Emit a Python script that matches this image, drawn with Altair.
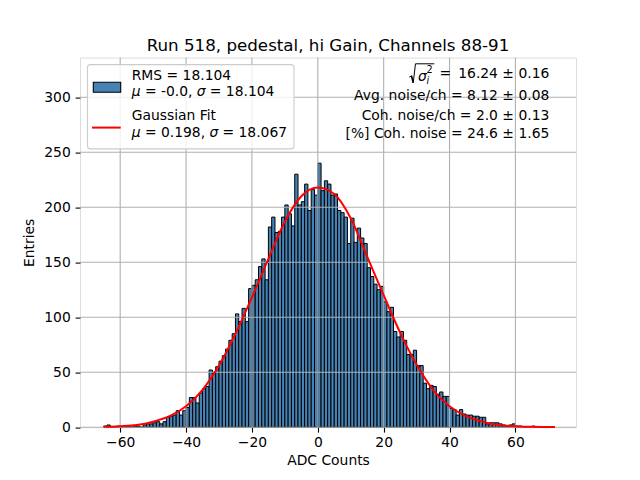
import altair as alt
import pandas as pd

TITLE = "Run 518, pedestal, hi Gain, Channels 88-91"
X_LABEL = "ADC Counts"
Y_LABEL = "Entries"

# histogram: left edge of each 1-count-wide bin and its entries
bin_start = list(range(-65, 72))
counts = [
    1, 2, 0, 0, 1, 0, 0, 1, 0, 1,            # -65 .. -56
    1, 0, 2, 3, 3, 4, 5, 3, 5, 9,            # -55 .. -46
    10, 11, 15, 11, 15, 18, 27, 27, 22, 31,  # -45 .. -36
    35, 37, 52, 50, 55, 60, 65, 71, 79, 85,  # -35 .. -26
    103, 96, 108, 96, 126, 129, 134, 146, 153, 134,  # -25 .. -16
    182, 191, 177, 178, 191, 202, 194, 183, 230, 202,  # -15 .. -6
    205, 221, 197, 216, 211, 240, 215, 224, 221, 211,  # -5 .. 4
    212, 197, 195, 191, 167, 190, 168, 181, 172, 167,  # 5 .. 14
    145, 137, 130, 125, 128, 114, 105, 109, 87, 82,    # 15 .. 24
    87, 79, 66, 66, 70, 56, 56, 40, 35, 38,            # 25 .. 34
    37, 30, 32, 28, 28, 17, 16, 11, 16, 12,            # 35 .. 44
    11, 11, 10, 10, 9, 9, 3, 4, 4, 4,                  # 45 .. 54
    3, 2, 1, 2, 3, 1, 1, 0, 0, 0,                      # 55 .. 64
    1, 0, 0, 0, 0, 0, 0,                               # 65 .. 71
]
assert len(counts) == len(bin_start)

# Gaussian fit curve
fit_x = [-65, -60, -55, -50, -45, -40, -35, -30, -25, -20, -15, -10, -5, 0,
         5, 10, 15, 20, 25, 30, 35, 40, 45, 50, 55, 60, 65, 72]
fit_y = [0.3, 0.9, 2, 5, 10, 19, 34, 56, 85, 118, 153, 187, 210, 218,
         212, 190, 155, 120, 86, 57, 34, 19, 10, 5, 2, 0.9, 0.3, 0.1]

x_ticks = [-60, -40, -20, 0, 20, 40, 60]
y_ticks = [0, 50, 100, 150, 200, 250, 300]

# legend text pieces (math symbols drawn in italic)
leg_rms = "RMS = 18.104"
leg_fit = "Gaussian Fit"
mu_sym = "\u03bc"
sigma_sym = "\u03c3"
hist_mu_txt = "= -0.0,"
hist_sig_txt = "= 18.104"
fit_mu_txt = "= 0.198,"
fit_sig_txt = "= 18.067"

stats_lines = ["16.24 \u00b1 0.16", "Avg. noise/ch = 8.12 \u00b1 0.08",
               "Coh. noise/ch = 2.0 \u00b1 0.13", "[%] Coh. noise = 24.6 \u00b1 1.65"]

FONT = "DejaVu Sans"
FS = 13.9
BAR_COLOR = "#4682b4"
GRID = "#b0b0b0"

hist_df = pd.DataFrame({"start": bin_start,
                        "end": [b + 1 for b in bin_start],
                        "count": counts})
fit_df = pd.DataFrame({"x": fit_x, "y": fit_y})

xs = alt.Scale(domain=[-72.2, 78.4], nice=False, zero=False)
ys = alt.Scale(domain=[0, 336], nice=False, zero=False)

x_axis = alt.Axis(values=x_ticks, title=X_LABEL, grid=False, domain=False,
                  tickSize=4.9, tickWidth=1.1, tickColor="black",
                  labelFont=FONT, labelFontSize=FS, labelColor="black",
                  labelPadding=3, titleFont=FONT, titleFontSize=FS,
                  titleFontWeight="normal", titleColor="black", titlePadding=5,
                  labelExpr="replace(datum.label, '-', '\u2212')")
y_axis = alt.Axis(values=y_ticks, title=Y_LABEL, grid=False, domain=False,
                  tickSize=4.9, tickWidth=1.1, tickColor="black",
                  labelFont=FONT, labelFontSize=FS, labelColor="black",
                  labelPadding=4.9, titleFont=FONT, titleFontSize=FS,
                  titleFontWeight="normal", titleColor="black", titlePadding=7)

bars = alt.Chart(hist_df).mark_rect(fill=BAR_COLOR, stroke="black", strokeWidth=1).encode(
    x=alt.X("start:Q", scale=xs, axis=x_axis),
    x2="end:Q",
    y=alt.Y("count:Q", scale=ys, axis=y_axis),
    y2=alt.datum(0),
)

grid_x = alt.Chart(pd.DataFrame({"v": x_ticks})).mark_rule(color=GRID, strokeWidth=1.1).encode(
    x=alt.X("v:Q", scale=xs, axis=x_axis),
)
grid_y = alt.Chart(pd.DataFrame({"v": y_ticks})).mark_rule(color=GRID, strokeWidth=1.1).encode(
    y=alt.Y("v:Q", scale=ys, axis=y_axis),
)

fit = alt.Chart(fit_df).mark_line(color="red", strokeWidth=2, interpolate="monotone").encode(
    x=alt.X("x:Q", scale=xs, axis=x_axis),
    y=alt.Y("y:Q", scale=ys, axis=y_axis),
)

one = pd.DataFrame({"a": [0]})


def txt(s, x, y, align="left", size=FS, style="normal", baseline="middle"):
    return alt.Chart(pd.DataFrame({"t": [s]})).mark_text(
        align=align, baseline=baseline, font=FONT, fontSize=size,
        fontStyle=style, color="black").encode(
        x=alt.value(x), y=alt.value(y), text="t:N")


def seg(x1, y1, x2, y2, color="black", w=1.0):
    return alt.Chart(one).mark_rule(color=color, strokeWidth=w).encode(
        x=alt.value(x1), y=alt.value(y1), x2=alt.value(x2), y2=alt.value(y2))


legend_box = alt.Chart(one).mark_rect(
    fill="white", fillOpacity=0.8, stroke="#cccccc", strokeWidth=1.1, cornerRadius=3
).encode(x=alt.value(7.5), x2=alt.value(214), y=alt.value(7), y2=alt.value(91.3))

legend_patch = alt.Chart(one).mark_rect(fill=BAR_COLOR, stroke="black", strokeWidth=1.1).encode(
    x=alt.value(13.3), x2=alt.value(40.7), y=alt.value(24.7), y2=alt.value(34.7))

legend_red = seg(12, 70, 40.7, 70, color="red", w=2)

legend_texts = [
    txt(leg_rms, 51.7, 18),
    txt(mu_sym, 51.7, 34.7, style="italic"),
    txt(hist_mu_txt, 64.9, 34.7),
    txt(sigma_sym, 116.8, 34.7, style="italic"),
    txt(hist_sig_txt, 129.8, 34.7),
    txt(leg_fit, 51.7, 58.7),
    txt(mu_sym, 51.7, 75.3, style="italic"),
    txt(fit_mu_txt, 64.9, 75.3),
    txt(sigma_sym, 129.5, 75.3, style="italic"),
    txt(fit_sig_txt, 142.5, 75.3),
]

st_y = [16.5, 38.7, 58.7, 76.3]
stats_texts = [txt(s, 469.3, yy, align="right") for s, yy in zip(stats_lines, st_y)]

# sqrt(sigma_i^2) =
sqrt_parts = [
    seg(329.3, 19.5, 331.5, 18.2, w=1.0),
    seg(331.5, 18.2, 333.2, 25.3, w=1.6),
    seg(333.2, 25.3, 335.5, 6.2, w=1.0),
    seg(335.5, 6.2, 354.3, 6.2, w=1.0),
    txt(sigma_sym, 338, 19, style="italic"),
    txt("2", 346.5, 12, size=9.7),
    txt("i", 346.5, 23, size=9.7, style="italic"),
    txt("=", 359.5, 16.5),
]

chart = alt.layer(
    bars, grid_x, grid_y, fit, legend_box, legend_patch, legend_red,
    *legend_texts, *stats_texts, *sqrt_parts
).properties(
    width=496, height=369.6,
    padding={"left": 72, "top": 49.6, "right": 56, "bottom": 45},
    autosize=alt.AutoSizeParams(type="none"),
    title=alt.TitleParams(TITLE, font=FONT, fontSize=16.7, fontWeight="normal",
                          color="black", baseline="alphabetic", offset=8.3, dy=19),
).configure_view(
    stroke="black", strokeWidth=1.1
).configure(background="white")

chart.save("out.html", embed_options={"renderer": "svg", "actions": False})
